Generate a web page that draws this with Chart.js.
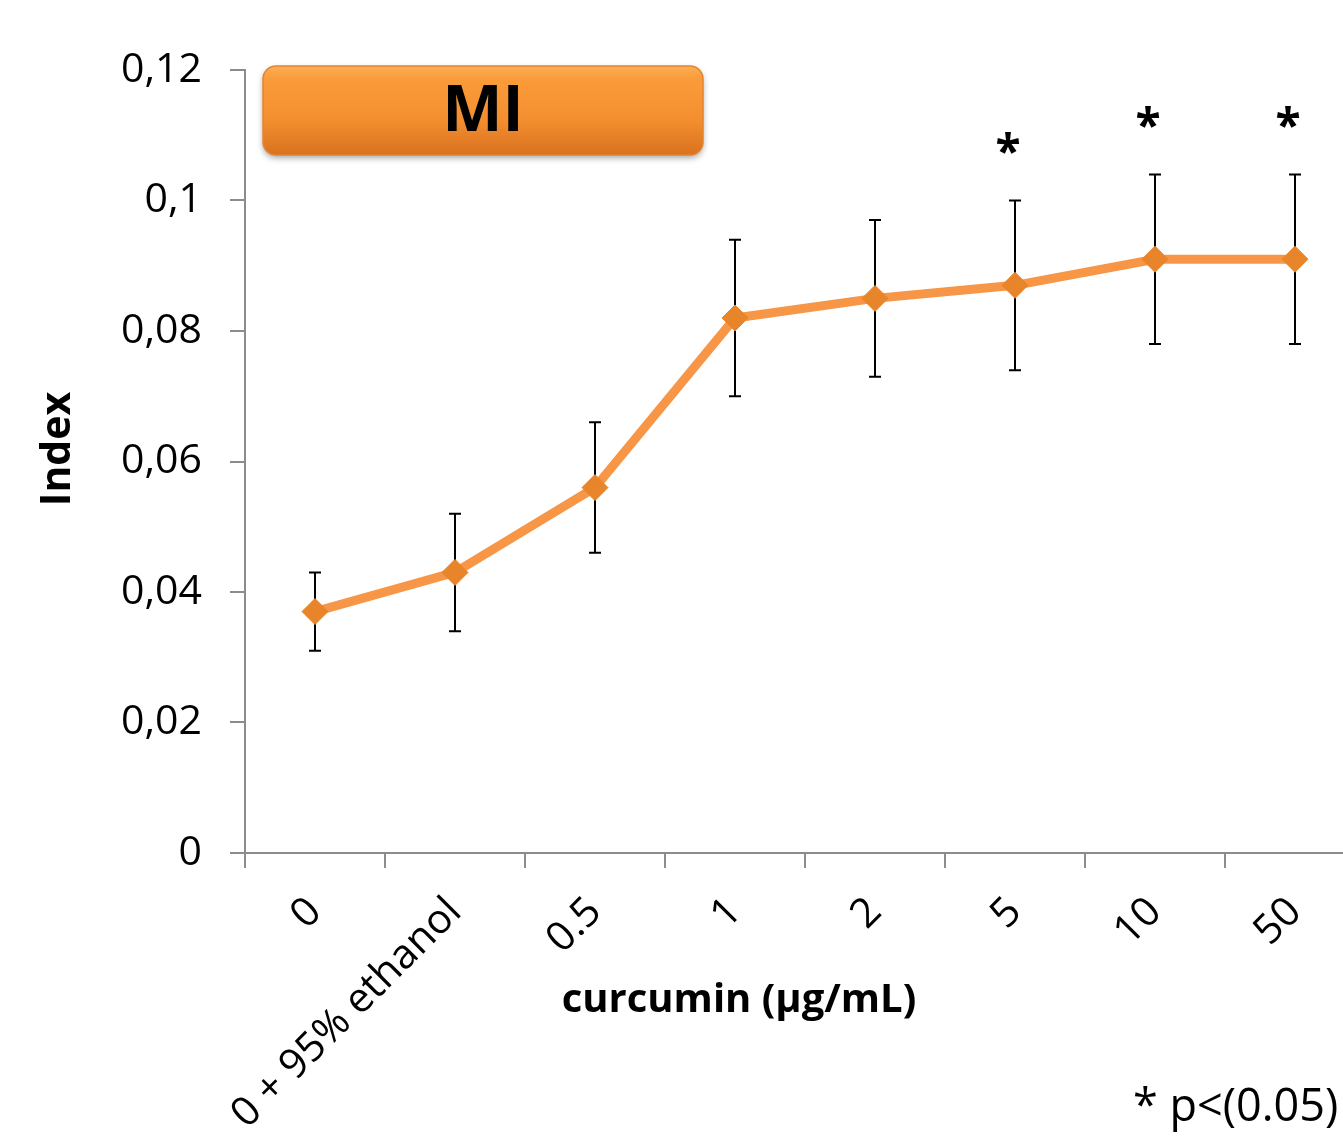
<!DOCTYPE html>
<html><head><meta charset="utf-8">
<script src="https://cdn.jsdelivr.net/npm/chart.js@4.4.0/dist/chart.umd.min.js"></script>
<style>
html,body{margin:0;padding:0;overflow:hidden;background:#fff;width:1343px;height:1139px}
#wrap{position:absolute;left:0;top:0;width:1400px;height:1139px}
</style></head>
<body><div id="wrap"><canvas id="c" width="1400" height="1139"></canvas></div>
<script>
const categories = ['0', '0 + 95% ethanol', '0.5', '1', '2', '5', '10', '50'];
const meanIndex = [0.037, 0.043, 0.056, 0.082, 0.085, 0.087, 0.091, 0.091];
const errorIndex = [0.006, 0.009, 0.010, 0.012, 0.012, 0.013, 0.013, 0.013];
const significance = ['', '', '', '', '', '*', '*', '*'];
const yTickLabels = ['0', '0,02', '0,04', '0,06', '0,08', '0,1', '0,12'];
const chartTitle = 'MI';
const xAxisTitle = 'curcumin (µg/mL)';
const yAxisTitle = 'Index';
const footnote = '* p<(0.05)';

const FONT = "'Open Sans', sans-serif";
const AXIS_COLOR = '#8c8c8c';

const annotations = {
  id: 'annotations',
  beforeDatasetsDraw(chart) {
    const ctx = chart.ctx, xs = chart.scales.x, ys = chart.scales.y;
    ctx.save();
    ctx.strokeStyle = '#000';
    ctx.lineWidth = 2;
    meanIndex.forEach((m, i) => {
      const x = xs.getPixelForValue(i);
      const yt = ys.getPixelForValue(m + errorIndex[i]);
      const yb = ys.getPixelForValue(m - errorIndex[i]);
      ctx.beginPath();
      ctx.moveTo(x, yt); ctx.lineTo(x, yb);
      ctx.moveTo(x - 6, yt); ctx.lineTo(x + 6, yt);
      ctx.moveTo(x - 6, yb); ctx.lineTo(x + 6, yb);
      ctx.stroke();
    });
    ctx.restore();
  },
  afterDraw(chart) {
    const ctx = chart.ctx, xs = chart.scales.x, ys = chart.scales.y;
    ctx.save();
    // significance asterisks
    ctx.fillStyle = '#000';
    ctx.font = `bold 46px ${FONT}`;
    ctx.textAlign = 'center';
    ctx.textBaseline = 'middle';
    significance.forEach((s, i) => {
      if (!s) return;
      const x = xs.getPixelForValue(i);
      const yt = ys.getPixelForValue(meanIndex[i] + errorIndex[i]);
      ctx.fillText(s, x - 7, yt - 46);
    });
    // title box
    const bx = 263, by = 66, bw = 440, bh = 89;
    ctx.save();
    ctx.shadowColor = 'rgba(0,0,0,0.35)';
    ctx.shadowBlur = 6;
    ctx.shadowOffsetY = 3;
    const g = ctx.createLinearGradient(0, by, 0, by + bh);
    g.addColorStop(0, '#FDAE55');
    g.addColorStop(0.15, '#FA9B3A');
    g.addColorStop(0.6, '#F48F30');
    g.addColorStop(1, '#D9711E');
    ctx.fillStyle = g;
    ctx.beginPath();
    ctx.roundRect(bx, by, bw, bh, 13);
    ctx.fill();
    ctx.restore();
    ctx.strokeStyle = '#E28530';
    ctx.lineWidth = 1.5;
    ctx.beginPath();
    ctx.roundRect(bx, by, bw, bh, 13);
    ctx.stroke();
    ctx.fillStyle = '#000';
    ctx.font = `bold 64px ${FONT}`;
    ctx.textAlign = 'center';
    ctx.textBaseline = 'middle';
    ctx.fillText(chartTitle, bx + bw / 2, by + bh / 2 + 2);
    // x axis title
    ctx.font = `bold 40px ${FONT}`;
    ctx.textBaseline = 'alphabetic';
    ctx.fillText(xAxisTitle, 739, 1012);
    // y axis title
    ctx.save();
    ctx.translate(70, 449);
    ctx.rotate(-Math.PI / 2);
    ctx.font = `bold 41px ${FONT}`;
    ctx.fillText(yAxisTitle, 0, 0);
    ctx.restore();
    // footnote
    ctx.font = `45px ${FONT}`;
    ctx.textAlign = 'left';
    ctx.fillText(footnote, 1133, 1121);
    ctx.restore();
  }
};

new Chart(document.getElementById('c'), {
  type: 'line',
  data: {
    labels: categories,
    datasets: [{
      data: meanIndex,
      borderColor: '#F79646',
      borderWidth: 9,
      tension: 0,
      pointStyle: 'rectRot',
      pointRadius: 13,
      pointHoverRadius: 13,
      pointBackgroundColor: '#E8842A',
      pointBorderColor: '#E8842A',
      pointBorderWidth: 1
    }]
  },
  options: {
    responsive: false,
    animation: false,
    events: [],
    layout: { padding: { left: 0, top: 70, right: 35, bottom: 0 } },
    plugins: { legend: { display: false }, tooltip: { enabled: false } },
    scales: {
      x: {
        offset: true,
        grid: { offset: true, drawOnChartArea: false, drawTicks: true, tickLength: 15, color: AXIS_COLOR, lineWidth: 2 },
        border: { color: AXIS_COLOR, width: 2 },
        ticks: { autoSkip: false, maxRotation: 45, minRotation: 45, padding: 20, color: '#000', font: { family: FONT, size: 41 } },
        afterFit(s) { s.height = 286; }
      },
      y: {
        min: 0, max: 0.12,
        grid: { drawOnChartArea: false, drawTicks: true, tickLength: 15, color: AXIS_COLOR, lineWidth: 2 },
        border: { color: AXIS_COLOR, width: 2 },
        ticks: { stepSize: 0.02, padding: 28, color: '#000', font: { family: FONT, size: 41 },
          callback: (v, i) => yTickLabels[i] },
        afterFit(s) { s.width = 245; }
      }
    }
  },
  plugins: [annotations]
});
</script>
</body></html>
